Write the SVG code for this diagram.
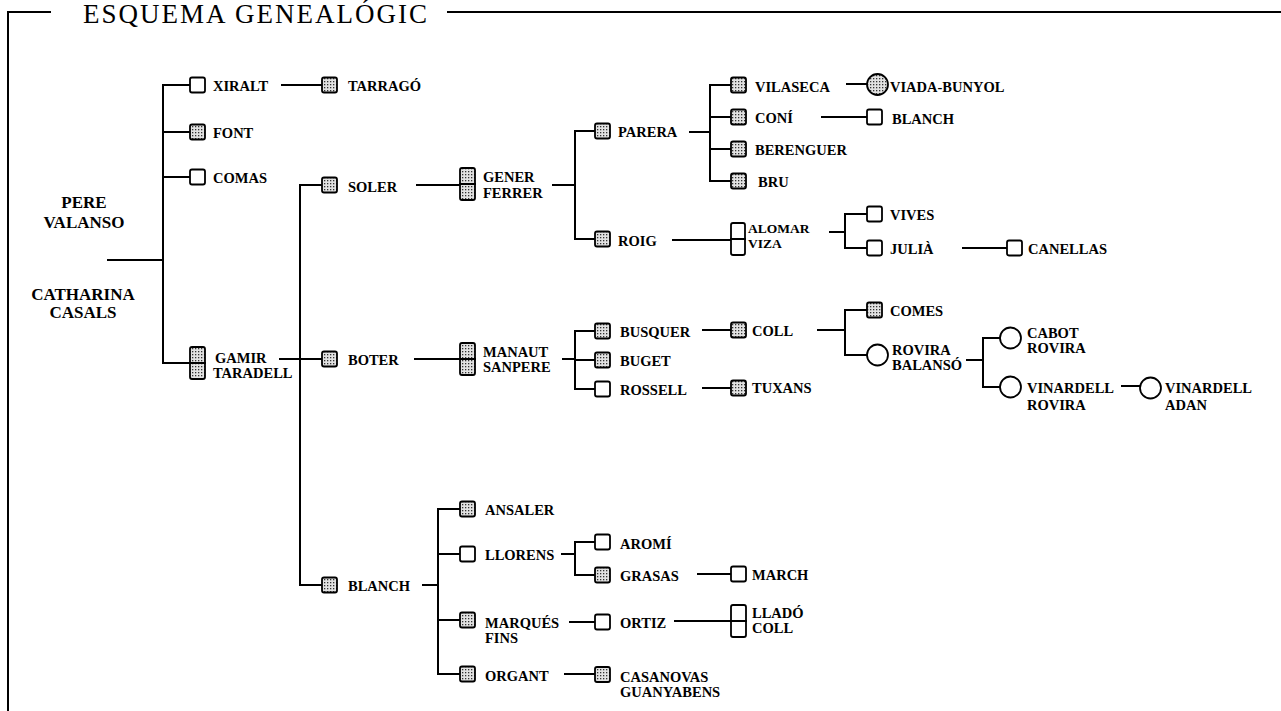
<svg xmlns="http://www.w3.org/2000/svg" width="1281" height="711" viewBox="0 0 1281 711">
<defs>
<pattern id="dots" width="3" height="3" patternUnits="userSpaceOnUse">
<rect width="3" height="3" fill="#e2e2e2"/>
<rect x="0" y="0" width="1.3" height="1.3" fill="#333"/>
</pattern>
<style>
.ln{fill:none;stroke:#000;stroke-width:2;stroke-linecap:square}
.bx{fill:#fff;stroke:#000;stroke-width:1.8}
.fx{fill:url(#dots);stroke:#000;stroke-width:1.8}
text{font-family:"Liberation Serif","Times New Roman",serif;font-weight:bold;font-size:14.5px;fill:#000}
.root{font-size:17px;text-anchor:middle}
.title{font-weight:normal;font-size:27px}
.sm{font-size:13.5px}
</style>
</defs>
<rect width="1281" height="711" fill="#fff"/>
<g id="frame">
<path class="ln" d="M8 711 V12 H50 M448 12 H1281"/>
<text class="title" x="83" y="23" textLength="344" lengthAdjust="spacing">ESQUEMA GENEALÓGIC</text>
</g>
<g id="connectors">
<path class="ln" d="M108 260 H163"/>
<path class="ln" d="M190 85 H163 V363 H190 M163 132 H190 M163 177 H190"/>
<path class="ln" d="M282 85 H322"/>
<path class="ln" d="M280 359 H322 M322 185 H300 V585 H322"/>
<path class="ln" d="M417 185 H460"/>
<path class="ln" d="M553 185 H575 M595 131 H575 V239 H595"/>
<path class="ln" d="M690 132 H710 M731 85 H710 V181 H731 M710 117 H731 M710 149 H731"/>
<path class="ln" d="M847 84 H867"/>
<path class="ln" d="M822 117 H867"/>
<path class="ln" d="M673 240 H731"/>
<path class="ln" d="M830 232 H845 M867 214 H845 V248 H867"/>
<path class="ln" d="M963 248 H1007"/>
<path class="ln" d="M415 359 H460"/>
<path class="ln" d="M563 359 H575 M595 331 H575 V389 H595 M575 360 H595"/>
<path class="ln" d="M703 330 H731"/>
<path class="ln" d="M703 388 H731"/>
<path class="ln" d="M818 330 H845 M867 310 H845 V355 H867"/>
<path class="ln" d="M967 360 H983 M1000 338 H983 V387 H1000"/>
<path class="ln" d="M1122 386 H1140"/>
<path class="ln" d="M423 585 H438 M460 509 H438 V674 H460 M438 554 H460 M438 620 H460"/>
<path class="ln" d="M562 554 H575 M595 542 H575 V575 H595"/>
<path class="ln" d="M698 574 H731"/>
<path class="ln" d="M570 622 H595"/>
<path class="ln" d="M675 621 H731"/>
<path class="ln" d="M565 674 H595"/>
</g>
<g id="root">
<text class="root" x="84" y="208">PERE</text>
<text class="root" x="84" y="228">VALANSO</text>
<text class="root" x="83" y="300">CATHARINA</text>
<text class="root" x="83" y="318">CASALS</text>
</g>
<g id="xiralt"><rect class="bx" x="190" y="77.5" width="15" height="15" rx="2"/><text x="213" y="91">XIRALT</text></g>
<g id="font"><rect class="fx" x="190" y="124.5" width="15" height="15" rx="2"/><text x="213" y="138">FONT</text></g>
<g id="comas"><rect class="bx" x="190" y="169.5" width="15" height="15" rx="2"/><text x="213" y="183">COMAS</text></g>
<g id="gamir"><rect class="fx" x="190" y="347" width="15" height="32" rx="2"/><path class="ln" d="M190 363 H205"/><text x="215" y="363">GAMIR</text><text x="213" y="378">TARADELL</text></g>
<g id="tarrago"><rect class="fx" x="322" y="77.5" width="15" height="15" rx="2"/><text x="348" y="91">TARRAGÓ</text></g>
<g id="soler"><rect class="fx" x="322" y="177.5" width="15" height="15" rx="2"/><text x="348" y="192">SOLER</text></g>
<g id="boter"><rect class="fx" x="322" y="351.5" width="15" height="15" rx="2"/><text x="348" y="365">BOTER</text></g>
<g id="blanch1"><rect class="fx" x="322" y="577.5" width="15" height="15" rx="2"/><text x="348" y="591">BLANCH</text></g>
<g id="gener"><rect class="fx" x="460" y="168" width="15" height="32" rx="2"/><path class="ln" d="M460 184 H475"/><text x="483" y="182">GENER</text><text x="483" y="198">FERRER</text></g>
<g id="manaut"><rect class="fx" x="460" y="343" width="15" height="32" rx="2"/><path class="ln" d="M460 359 H475"/><text x="483" y="357">MANAUT</text><text x="483" y="372">SANPERE</text></g>
<g id="ansaler"><rect class="fx" x="460" y="501.5" width="15" height="15" rx="2"/><text x="485" y="515">ANSALER</text></g>
<g id="llorens"><rect class="bx" x="460" y="546.5" width="15" height="15" rx="2"/><text x="485" y="560">LLORENS</text></g>
<g id="marques"><rect class="fx" x="460" y="612.5" width="15" height="15" rx="2"/><text x="485" y="628">MARQUÉS</text><text x="485" y="643">FINS</text></g>
<g id="organt"><rect class="fx" x="460" y="666.5" width="15" height="15" rx="2"/><text x="485" y="681">ORGANT</text></g>
<g id="parera"><rect class="fx" x="595" y="123.5" width="15" height="15" rx="2"/><text x="618" y="137">PARERA</text></g>
<g id="roig"><rect class="fx" x="595" y="231.5" width="15" height="15" rx="2"/><text x="618" y="246">ROIG</text></g>
<g id="busquer"><rect class="fx" x="595" y="323.5" width="15" height="15" rx="2"/><text x="620" y="337">BUSQUER</text></g>
<g id="buget"><rect class="fx" x="595" y="352.5" width="15" height="15" rx="2"/><text x="620" y="366">BUGET</text></g>
<g id="rossell"><rect class="bx" x="595" y="381.5" width="15" height="15" rx="2"/><text x="620" y="395">ROSSELL</text></g>
<g id="aromi"><rect class="bx" x="595" y="534.5" width="15" height="15" rx="2"/><text x="620" y="549">AROMÍ</text></g>
<g id="grasas"><rect class="fx" x="595" y="567.5" width="15" height="15" rx="2"/><text x="620" y="581">GRASAS</text></g>
<g id="ortiz"><rect class="bx" x="595" y="614.5" width="15" height="15" rx="2"/><text x="620" y="628">ORTIZ</text></g>
<g id="casanovas"><rect class="fx" x="595" y="667" width="15" height="15" rx="2"/><text x="620" y="682">CASANOVAS</text><text x="620" y="697">GUANYABENS</text></g>
<g id="vilaseca"><rect class="fx" x="731" y="77.5" width="15" height="15" rx="2"/><text x="755" y="92">VILASECA</text></g>
<g id="coni"><rect class="fx" x="731" y="109.5" width="15" height="15" rx="2"/><text x="755" y="123">CONÍ</text></g>
<g id="berenguer"><rect class="fx" x="731" y="141.5" width="15" height="15" rx="2"/><text x="755" y="155">BERENGUER</text></g>
<g id="bru"><rect class="fx" x="731" y="173.5" width="15" height="15" rx="2"/><text x="758" y="187">BRU</text></g>
<g id="alomar"><rect class="bx" x="731" y="223" width="14" height="32" rx="2"/><path class="ln" d="M731 239 H745"/><text class="sm" x="748" y="233">ALOMAR</text><text class="sm" x="748" y="248">VIZA</text></g>
<g id="coll1"><rect class="fx" x="731" y="322.5" width="15" height="15" rx="2"/><text x="752" y="336">COLL</text></g>
<g id="tuxans"><rect class="fx" x="731" y="380.5" width="15" height="15" rx="2"/><text x="752" y="393">TUXANS</text></g>
<g id="march"><rect class="bx" x="731" y="566.5" width="15" height="15" rx="2"/><text x="752" y="580">MARCH</text></g>
<g id="llado"><rect class="bx" x="731" y="605" width="15" height="32" rx="2"/><path class="ln" d="M731 621 H746"/><text x="752" y="618">LLADÓ</text><text x="752" y="633">COLL</text></g>
<g id="viada"><circle class="fx" cx="877.5" cy="84.5" r="10.5"/><text x="890" y="92">VIADA-BUNYOL</text></g>
<g id="blanch2"><rect class="bx" x="867" y="109.5" width="15" height="15" rx="2"/><text x="892" y="124">BLANCH</text></g>
<g id="vives"><rect class="bx" x="867" y="206.5" width="15" height="15" rx="2"/><text x="890" y="220">VIVES</text></g>
<g id="julia"><rect class="bx" x="867" y="240.5" width="15" height="15" rx="2"/><text x="890" y="254">JULIÀ</text></g>
<g id="canellas"><rect class="bx" x="1007" y="240.5" width="15" height="15" rx="2"/><text x="1028" y="254">CANELLAS</text></g>
<g id="comes"><rect class="fx" x="867" y="302.5" width="15" height="15" rx="2"/><text x="890" y="316">COMES</text></g>
<g id="rovira"><circle class="bx" cx="877.5" cy="355" r="10.5"/><text x="892" y="355">ROVIRA</text><text x="892" y="370">BALANSÓ</text></g>
<g id="cabot"><circle class="bx" cx="1010.5" cy="338" r="10.5"/><text x="1027" y="338">CABOT</text><text x="1027" y="353">ROVIRA</text></g>
<g id="vinardell1"><circle class="bx" cx="1010.5" cy="387" r="10.5"/><text x="1027" y="393">VINARDELL</text><text x="1027" y="410">ROVIRA</text></g>
<g id="vinardell2"><circle class="bx" cx="1150.5" cy="388" r="10.5"/><text x="1165" y="393">VINARDELL</text><text x="1165" y="410">ADAN</text></g>
</svg>
